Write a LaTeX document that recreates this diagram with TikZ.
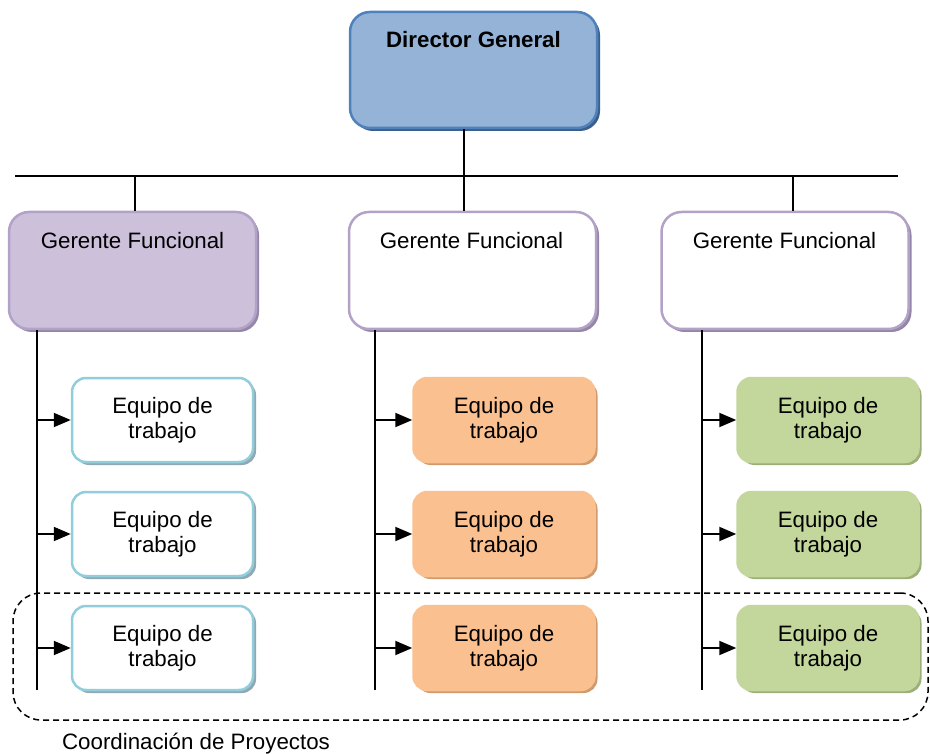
\documentclass[tikz,border=0pt]{standalone}
\usepackage{fontspec}
\setmainfont{Liberation Sans}
\usetikzlibrary{arrows.meta,shadows}
\definecolor{dirfill}{HTML}{95B3D7}
\definecolor{dirline}{HTML}{4F81BD}
\definecolor{dirshadow}{HTML}{3A5F8C}
\definecolor{gerfill}{HTML}{CCC0DA}
\definecolor{gerline}{HTML}{B3A2C7}
\definecolor{gershadow}{HTML}{9486A6}
\definecolor{eqline}{HTML}{92CDDC}
\definecolor{eqshadow}{HTML}{8FA8B2}
\definecolor{orfill}{HTML}{FAC090}
\definecolor{orshadow}{HTML}{CF9A6E}
\definecolor{grfill}{HTML}{C3D69B}
\definecolor{grshadow}{HTML}{9DAF78}
\tikzset{
  txt/.style={font=\fontsize{22.3}{25}\selectfont, align=center, inner sep=0pt},
  boxbase/.style={rounded corners=20pt, line width=2.5pt, inner sep=0pt},
  dirbox/.style={boxbase, draw=dirline, fill=dirfill, minimum width=247pt, minimum height=116pt,
    drop shadow={shadow xshift=3pt, shadow yshift=-3pt, fill=dirshadow, opacity=1}},
  gerbox/.style={boxbase, draw=gerline, fill=#1, minimum width=247pt, minimum height=117pt,
    drop shadow={shadow xshift=3pt, shadow yshift=-3pt, fill=gershadow, opacity=1}},
  eqbox/.style n args={3}{boxbase, rounded corners=14pt, draw=#1, fill=#2, minimum width=181pt, minimum height=84pt,
    txt, drop shadow={shadow xshift=3pt, shadow yshift=-3pt, fill=#3, opacity=1}},
  wire/.style={line width=2pt, draw=black},
  feed/.style={wire, -{Triangle[length=17pt,width=14pt]}},
}
\begin{document}
\begin{tikzpicture}[x=1pt,y=-1pt]
\useasboundingbox (0,0) rectangle (930,754);

% top level
\node[dirbox] (dir) at (473.5,70) {};
\node[txt, font=\fontsize{22.3}{25}\selectfont\bfseries] (dirT) at (473.5,40) {Director General};

% bus and drops
\coordinate (busL) at (15,176);
\coordinate (busR) at (898,176);
\coordinate (j1) at (135,176);
\coordinate (j2) at (464,176);
\coordinate (j3) at (793,176);

% functional managers
\node[gerbox=gerfill] (g1) at (132.5,270.5) {};
\node[gerbox=white] (g2) at (472.5,270.5) {};
\node[gerbox=white] (g3) at (785,270.5) {};
\node[txt] (g1T) at (132.5,241) {Gerente Funcional};
\node[txt] (g2T) at (471.5,241) {Gerente Funcional};
\node[txt] (g3T) at (784.5,241) {Gerente Funcional};

\draw[wire] (busL) -- (busR);
\draw[wire] (j2) -- (j2 |- dir.south);
\draw[wire] (j1) -- (j1 |- g1.north);
\draw[wire] (j2) -- (j2 |- g2.north);
\draw[wire] (j3) -- (j3 |- g3.north);

% project coordination band
\node[draw, dashed, dash pattern=on 6pt off 4pt, line width=1.5pt, rounded corners=28pt,
      minimum width=915pt, minimum height=127pt, inner sep=0pt] (coord) at (470.5,656.5) {};
\node[txt] (coordT) at (196,744) {Coordinación de Proyectos};

% spines
\coordinate (s1) at (37,690);
\coordinate (s2) at (375,690);
\coordinate (s3) at (702,690);
\draw[wire] (s1) -- (s1 |- g1.south);
\draw[wire] (s2) -- (s2 |- g2.south);
\draw[wire] (s3) -- (s3 |- g3.south);

% work teams
\foreach \r/\y in {1/420,2/534,3/648}{
  \node[eqbox={eqline}{white}{eqshadow}] (a\r) at (162.5,\y) {Equipo de\\trabajo};
  \node[eqbox={orfill}{orfill}{orshadow}] (b\r) at (504,\y) {Equipo de\\trabajo};
  \node[eqbox={grfill}{grfill}{grshadow}] (c\r) at (828,\y) {Equipo de\\trabajo};
  \draw[feed] (s1 |- a\r.west) -- (a\r.west);
  \draw[feed] (s2 |- b\r.west) -- (b\r.west);
  \draw[feed] (s3 |- c\r.west) -- (c\r.west);
}
\end{tikzpicture}
\end{document}
